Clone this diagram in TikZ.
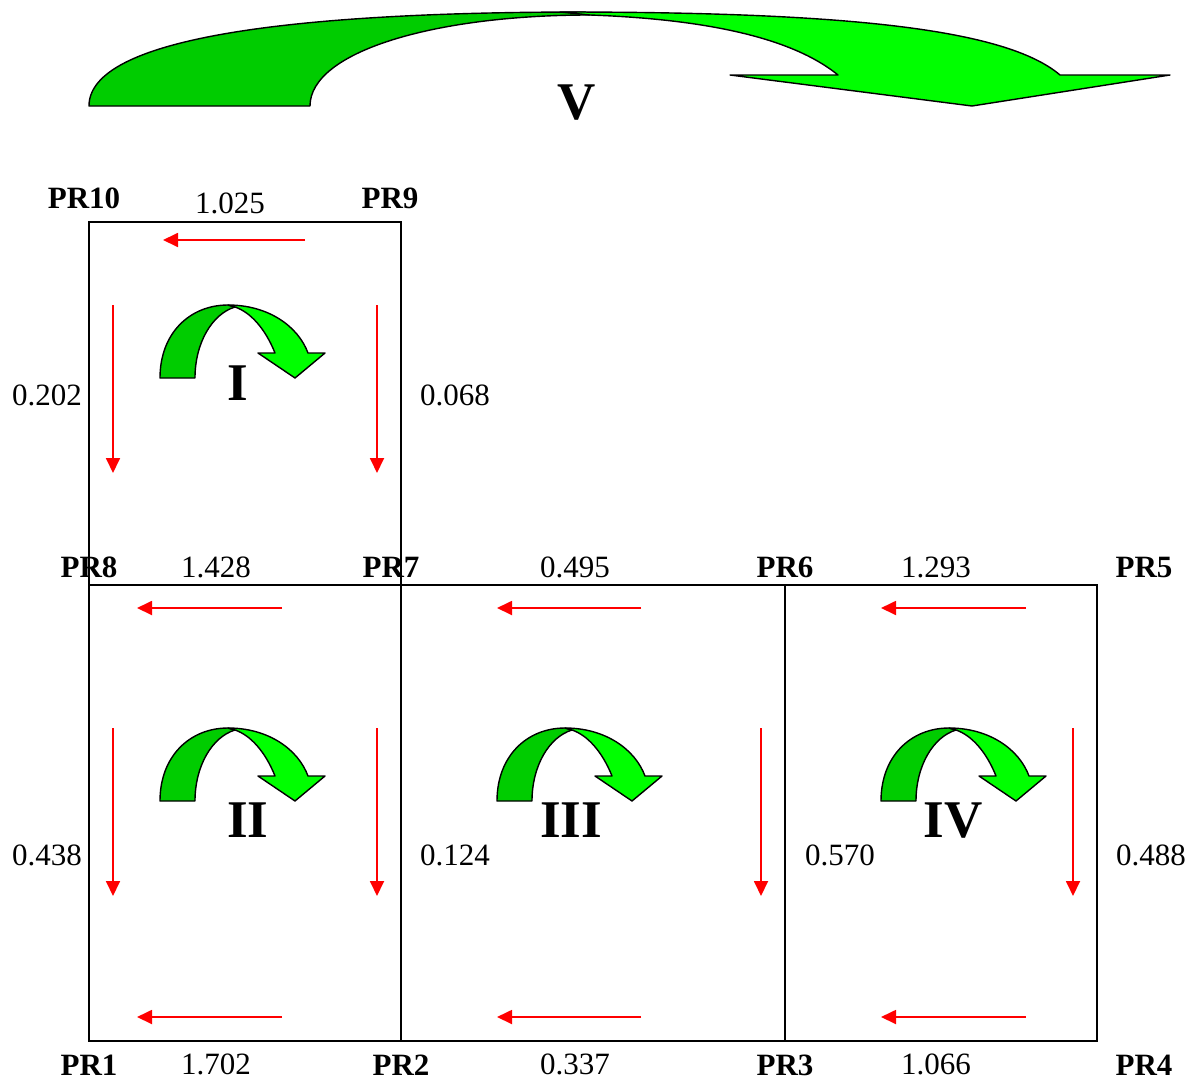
\documentclass[tikz,border=0pt]{standalone}
\usepackage{fontspec}
\setmainfont{Liberation Serif}
\usetikzlibrary{arrows.meta}
\definecolor{dkgreen}{HTML}{00CC00}
\definecolor{ltgreen}{HTML}{00FF00}
\tikzset{
  box/.style={draw=black, line width=1.8pt},
  flow/.style={draw=red, line width=1.8pt, -{Triangle[length=15pt,width=14pt]}},
  num/.style={font=\fontsize{31}{31}\selectfont, anchor=base, inner sep=0pt},
  pr/.style={font=\fontsize{31}{31}\selectfont\bfseries, anchor=base, inner sep=0pt},
  roman/.style={font=\fontsize{53}{53}\selectfont\bfseries, anchor=base, inner sep=0pt},
  garrow/.style={draw=black, line width=1.4pt, line join=round},
  pics/curvarrow/.style={code={
    \path[garrow, fill=dkgreen] (0,0) .. controls (0,-45) and (30,-73) .. (68,-73)
      -- (75,-71) .. controls (52,-64) and (35,-35) .. (35,0) -- cycle;
    \path[garrow, fill=ltgreen] (68,-73) .. controls (108,-73) and (138,-52) .. (148,-25)
      -- (165,-25) -- (135,0) -- (98,-25) -- (115,-25)
      .. controls (105,-50) and (90,-66) .. (75,-71) -- cycle;
  }}
}
\begin{document}
\begin{tikzpicture}[x=1pt,y=-1pt]
\useasboundingbox (0,0) rectangle (1196,1084);

% big arrow V
\path[garrow, fill=dkgreen] (89,106) .. controls (89,38) and (290,12) .. (585,12)
  -- (590,15) .. controls (433,15) and (310,52) .. (310,106) -- cycle;
\path[garrow, fill=ltgreen] (560,12) .. controls (840,12) and (1005,28) .. (1060,75)
  -- (1170,75) -- (972,106) -- (730,75) -- (838,75)
  .. controls (790,36) and (700,19) .. (590,15) -- (560,12) -- cycle;

% corner coordinates
\coordinate (PR10) at (89,222);
\coordinate (PR9) at (401,222);
\coordinate (PR8) at (89,585);
\coordinate (PR7) at (401,585);
\coordinate (PR6) at (785,585);
\coordinate (PR5) at (1097,585);
\coordinate (PR1) at (89,1041);
\coordinate (PR2) at (401,1041);
\coordinate (PR3) at (785,1041);
\coordinate (PR4) at (1097,1041);

% boxes
\draw[box] (PR8) rectangle (PR9);
\draw[box] (PR1) rectangle (PR7);
\draw[box] (PR2) rectangle (PR6);
\draw[box] (PR3) rectangle (PR5);

% red flow arrows, loop I
\coordinate (a1s) at (305,240); \coordinate (a1e) at (163,240);
\coordinate (a2s) at (113,305); \coordinate (a2e) at (113,473);
\coordinate (a3s) at (377,305); \coordinate (a3e) at (377,473);
\draw[flow] (a1s) -- (a1e);
\draw[flow] (a2s) -- (a2e);
\draw[flow] (a3s) -- (a3e);
% loop II
\coordinate (b1s) at (282,608); \coordinate (b1e) at (137,608);
\coordinate (b2s) at (282,1017); \coordinate (b2e) at (137,1017);
\coordinate (b3s) at (113,728); \coordinate (b3e) at (113,896);
\coordinate (b4s) at (377,728); \coordinate (b4e) at (377,896);
\draw[flow] (b1s) -- (b1e);
\draw[flow] (b2s) -- (b2e);
\draw[flow] (b3s) -- (b3e);
\draw[flow] (b4s) -- (b4e);
% loop III
\coordinate (c1s) at (641,608); \coordinate (c1e) at (497,608);
\coordinate (c2s) at (641,1017); \coordinate (c2e) at (497,1017);
\coordinate (c3s) at (761,728); \coordinate (c3e) at (761,896);
\draw[flow] (c1s) -- (c1e);
\draw[flow] (c2s) -- (c2e);
\draw[flow] (c3s) -- (c3e);
% loop IV
\coordinate (d1s) at (1026,608); \coordinate (d1e) at (881,608);
\coordinate (d2s) at (1026,1017); \coordinate (d2e) at (881,1017);
\coordinate (d3s) at (1073,728); \coordinate (d3e) at (1073,896);
\draw[flow] (d1s) -- (d1e);
\draw[flow] (d2s) -- (d2e);
\draw[flow] (d3s) -- (d3e);

% green curved arrows
\pic at (160,378) {curvarrow};
\pic at (160,801) {curvarrow};
\pic at (497,801) {curvarrow};
\pic at (881,801) {curvarrow};

% roman numerals
\node[roman] (nV) at (577,119) {V};
\node[roman] (nI) at (238,400) {I};
\node[roman] (nII) at (248,837) {II};
\node[roman] (nIII) at (571,837) {III};
\node[roman] (nIV) at (953,837) {IV};

% point labels
\node[pr] (lPR10) at (84,208) {PR10};
\node[pr] (lPR9) at (390,208) {PR9};
\node[pr] (lPR8) at (89,577) {PR8};
\node[pr] (lPR7) at (391,577) {PR7};
\node[pr] (lPR6) at (785,577) {PR6};
\node[pr] (lPR5) at (1144,577) {PR5};
\node[pr] (lPR1) at (89,1075) {PR1};
\node[pr] (lPR2) at (401,1075) {PR2};
\node[pr] (lPR3) at (785,1075) {PR3};
\node[pr] (lPR4) at (1144,1075) {PR4};

% values
\node[num] (v1) at (230,213) {1.025};
\node[num] (v2) at (47,405) {0.202};
\node[num] (v3) at (455,405) {0.068};
\node[num] (v4) at (216,577) {1.428};
\node[num] (v5) at (575,577) {0.495};
\node[num] (v6) at (936,577) {1.293};
\node[num] (v7) at (47,865) {0.438};
\node[num] (v8) at (455,865) {0.124};
\node[num] (v9) at (840,865) {0.570};
\node[num] (v10) at (1151,865) {0.488};
\node[num] (v11) at (216,1074) {1.702};
\node[num] (v12) at (575,1074) {0.337};
\node[num] (v13) at (936,1074) {1.066};
\end{tikzpicture}
\end{document}
